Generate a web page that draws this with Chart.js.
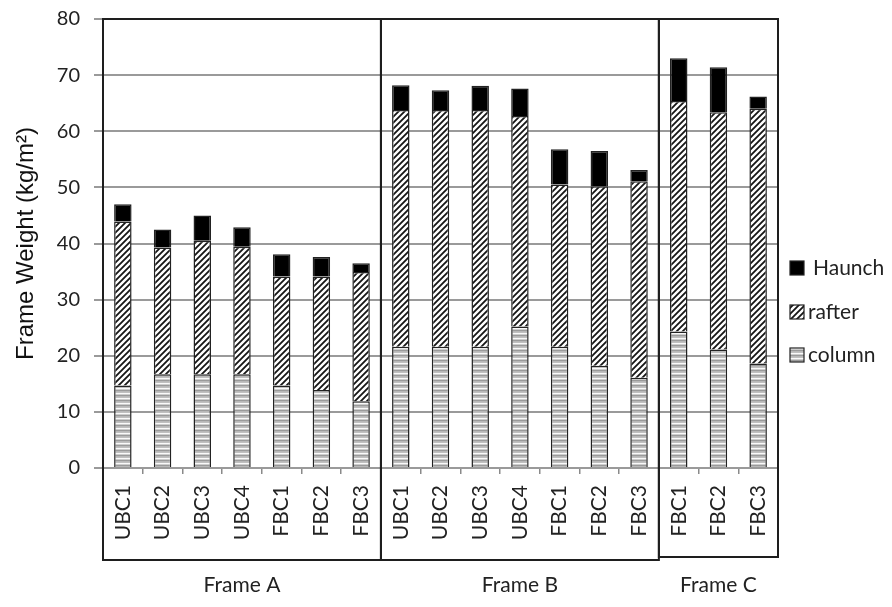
<!DOCTYPE html>
<html>
<head>
<meta charset="utf-8">
<script src="https://cdn.jsdelivr.net/npm/chart.js@4.4.1/dist/chart.umd.min.js"></script>
<style>
html,body{margin:0;padding:0;background:#fff;}
#wrap{width:892px;height:607px;position:relative;}
</style>
</head>
<body>
<div id="wrap"><canvas id="c" width="892" height="607"></canvas></div>
<script>
// ---- data ----
const categories = ['UBC1','UBC2','UBC3','UBC4','FBC1','FBC2','FBC3',
                    'UBC1','UBC2','UBC3','UBC4','FBC1','FBC2','FBC3',
                    'FBC1','FBC2','FBC3'];
const groupNames = ['Frame A','Frame B','Frame C'];
const groupSizes = [7,7,3];
const columnWeight = [14.7,16.7,16.7,16.7,14.7,13.9,11.9,
                      21.6,21.6,21.6,25.2,21.6,18.2,16.1,
                      24.3,21.1,18.6];
const rafterWeight = [29.2,22.6,23.8,22.7,19.4,20.2,23.0,
                      42.2,42.2,42.2,37.5,28.9,32.0,35.0,
                      41.1,42.3,45.4];
const haunchWeight = [3.1,3.2,4.5,3.5,4.0,3.5,1.6,
                      4.4,3.5,4.3,4.9,6.3,6.3,2.0,
                      7.6,8.0,2.2];
const yTicks = [0,10,20,30,40,50,60,70,80];
const yTitle = 'Frame Weight (kg/m\u00B2)';

// ---- patterns ----
function columnPattern(){
  const c=document.createElement('canvas'); c.width=4; c.height=5;
  const g=c.getContext('2d');
  const rows=['#9a9a9a','#b8b8b8','#c0c0c0','#fafafa','#cdcdcd'];
  rows.forEach((col,i)=>{g.fillStyle=col; g.fillRect(0,i,4,1);});
  return g.createPattern(c,'repeat');
}
function hatchPattern(){
  const s=6;
  const c=document.createElement('canvas'); c.width=s; c.height=s;
  const g=c.getContext('2d');
  g.fillStyle='#fff'; g.fillRect(0,0,s,s);
  g.strokeStyle='#151515'; g.lineWidth=1.8;
  g.beginPath();
  g.moveTo(-1,s+1); g.lineTo(s+1,-1);
  g.moveTo(-s/2-1,s/2+1); g.lineTo(s/2+1,-s/2-1);
  g.moveTo(s/2-1,s*1.5+1); g.lineTo(s*1.5+1,s/2-1);
  g.stroke();
  return g.createPattern(c,'repeat');
}
const colPat = columnPattern();
const rafPat = hatchPattern();

const labelFont = 'Lato, "Open Sans", sans-serif';

// ---- plugin: frame boxes, group labels, legend ----
const framePlugin = {
  id:'frames',
  afterDraw(chart){
    const ctx=chart.ctx, x=chart.scales.x, a=chart.chartArea;
    ctx.save();
    let start=0;
    const bottoms=[92,92,89];
    groupSizes.forEach((n,gi)=>{
      const end=start+n-1;
      const half=(x.getPixelForValue(1)-x.getPixelForValue(0))/2;
      const l=x.getPixelForValue(start)-half;
      const r=x.getPixelForValue(end)+half;
      ctx.strokeStyle='#1e1e1e'; ctx.lineWidth=2;
      ctx.strokeRect(l,a.top,r-l,a.bottom+bottoms[gi]-a.top);
      ctx.fillStyle='#222';
      ctx.font='21px '+labelFont;
      ctx.textAlign='center'; ctx.textBaseline='middle';
      ctx.fillText(groupNames[gi],(l+r)/2,a.bottom+117);
      start+=n;
    });
    // legend
    const items=[['Haunch','#000'],['rafter',rafPat],['column',colPat]];
    const lx=a.right+12, ys=[268,312,355];
    items.forEach((it,i)=>{
      const y=ys[i];
      ctx.fillStyle=it[1];
      ctx.fillRect(lx,y-7,14,14);
      ctx.strokeStyle='#222'; ctx.lineWidth=1.2;
      ctx.strokeRect(lx,y-7,14,14);
      ctx.fillStyle='#222';
      ctx.font='21px '+labelFont;
      ctx.textAlign='left'; ctx.textBaseline='middle';
      ctx.fillText(it[0], lx+(i===0?23:18), y);
    });
    ctx.restore();
  }
};

new Chart(document.getElementById('c'),{
  type:'bar',
  data:{
    labels:categories,
    datasets:[
      {label:'column',data:columnWeight,backgroundColor:colPat,borderColor:'#222',borderWidth:1.5},
      {label:'rafter',data:rafterWeight,backgroundColor:rafPat,borderColor:'#222',borderWidth:1.5},
      {label:'Haunch',data:haunchWeight,backgroundColor:'#000',borderColor:'#222',borderWidth:1.5}
    ]
  },
  options:{
    responsive:false,
    animation:false,
    devicePixelRatio:1,
    layout:{padding:{top:19,right:114,bottom:0,left:0}},
    datasets:{bar:{categoryPercentage:1,barPercentage:0.44}},
    plugins:{legend:{display:false},tooltip:{enabled:false}},
    scales:{
      x:{
        stacked:true,
        afterFit:s=>{s.height=139; s.paddingLeft=0; s.paddingRight=0;},
        grid:{drawOnChartArea:false,drawTicks:true,tickLength:6,color:'#8a8a8a',lineWidth:1.5},
        border:{display:true,color:'#9a9a9a',width:2},
        ticks:{maxRotation:90,minRotation:90,padding:11,color:'#222',font:{family:labelFont,size:21}}
      },
      y:{
        stacked:true,
        min:0,max:80,
        afterFit:s=>{s.width=103; s.paddingTop=0; s.paddingBottom=0;},
        afterBuildTicks:s=>{s.ticks=yTicks.map(v=>({value:v}));},
        grid:{color:'#9a9a9a',lineWidth:2,tickLength:9},
        border:{display:true,color:'#222',width:2},
        ticks:{padding:14,color:'#222',font:{family:labelFont,size:20}},
        title:{display:true,text:yTitle,color:'#111',padding:{top:12,bottom:0},font:{family:'"Liberation Sans", Arial, sans-serif',size:24}}
      }
    }
  },
  plugins:[framePlugin]
});
</script>
</body>
</html>
